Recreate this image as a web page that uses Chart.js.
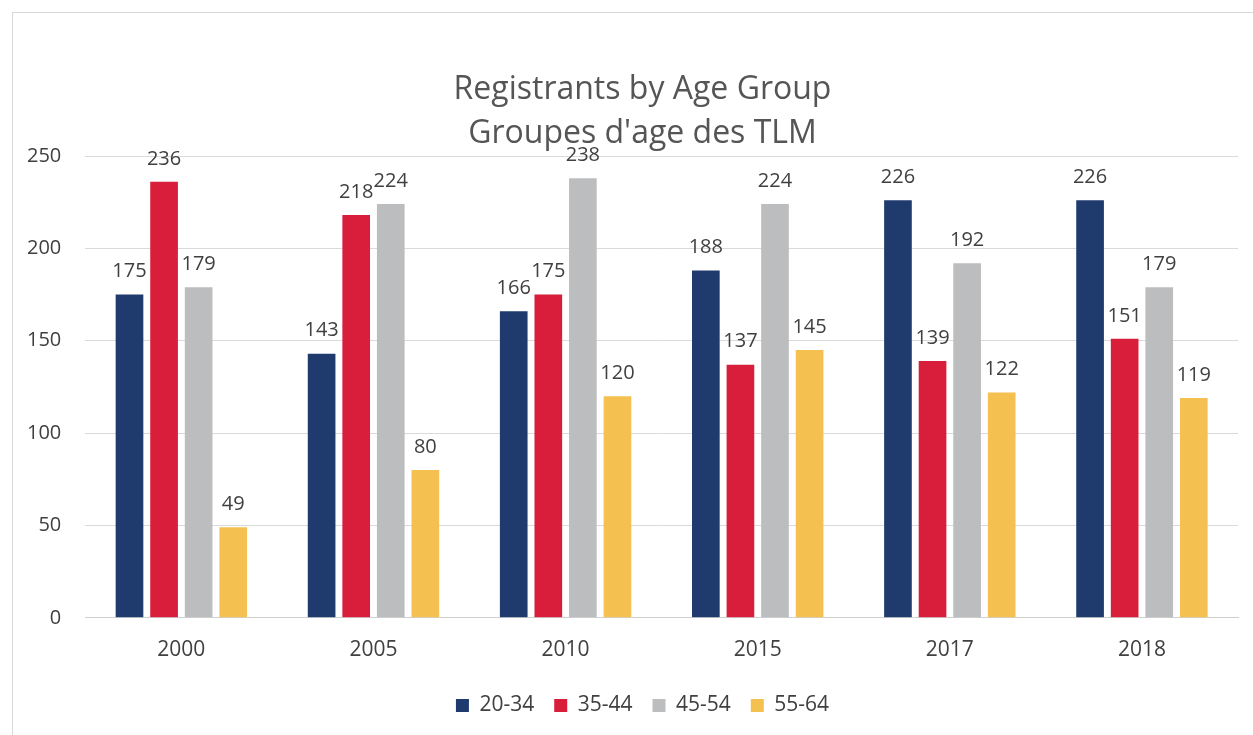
<!DOCTYPE html>
<html>
<head>
<meta charset="utf-8">
<script src="https://cdn.jsdelivr.net/npm/chart.js@4.4.1/dist/chart.umd.min.js"></script>
<style>
  html, body { margin: 0; padding: 0; background: #fff; }
  #frame { position: absolute; left: 12px; top: 12px; width: 1250px; height: 730px; border-left: 1px solid #d8d8d8; border-top: 1px solid #d8d8d8; }
  canvas { position: absolute; left: 0; top: 0; display: block; }
</style>
</head>
<body>
<div id="frame"></div>
<canvas id="chart" width="1253" height="735"></canvas>
<script>
const years = ['2000', '2005', '2010', '2015', '2017', '2018'];
const age20to34 = [175, 143, 166, 188, 226, 226];
const age35to44 = [236, 218, 175, 137, 139, 151];
const age45to54 = [179, 224, 238, 224, 192, 179];
const age55to64 = [49, 80, 120, 145, 122, 119];
const yTicks = [0, 50, 100, 150, 200, 250];

const textColor = '#404040';
const fontFamily = '"Open Sans", Calibri, sans-serif';

// draws the value above each bar
const valueLabels = {
    id: 'valueLabels',
    afterDatasetsDraw(chart) {
        const ctx = chart.ctx;
        ctx.save();
        ctx.font = '20px ' + fontFamily;
        ctx.fillStyle = textColor;
        ctx.textAlign = 'center';
        ctx.textBaseline = 'bottom';
        chart.data.datasets.forEach((ds, i) => {
            chart.getDatasetMeta(i).data.forEach((bar, j) => {
                ctx.fillText(ds.data[j], bar.x, bar.y - 13);
            });
        });
        ctx.restore();
    }
};

// the original centres title and legend on the frame, a bit right of the canvas middle
const shiftBoxes = {
    id: 'shiftBoxes',
    afterLayout(chart) {
        [chart.titleBlock, chart.legend].forEach(b => {
            b.left += 22;
            b.right += 22;
        });
    }
};

const ctx = document.getElementById('chart').getContext('2d');
new Chart(ctx, {
    type: 'bar',
    data: {
        labels: years,
        datasets: [
            { label: '20-34', data: age20to34, backgroundColor: '#1f3b6e' },
            { label: '35-44', data: age35to44, backgroundColor: '#d81e3a' },
            { label: '45-54', data: age45to54, backgroundColor: '#bcbdbf' },
            { label: '55-64', data: age55to64, backgroundColor: '#f4c04f' }
        ]
    },
    options: {
        responsive: false,
        animation: false,
        categoryPercentage: 0.72,
        barPercentage: 0.8,
        layout: { padding: { left: 3, right: 15, top: 0, bottom: 9 } },
        plugins: {
            title: {
                display: true,
                text: ['Registrants by Age Group', "Groupes d'age des TLM"],
                color: '#555555',
                font: { size: 32, family: fontFamily, weight: 'normal', lineHeight: 1.375 },
                padding: { top: 68, bottom: 0 }
            },
            legend: {
                position: 'bottom',
                labels: {
                    color: textColor,
                    boxWidth: 13,
                    boxHeight: 13,
                    padding: 20,
                    font: { size: 21, family: fontFamily }
                }
            },
            tooltip: { enabled: false }
        },
        scales: {
            x: {
                grid: { display: false },
                border: { color: '#d0d0d0' },
                ticks: { color: textColor, padding: 12, font: { size: 21, family: fontFamily } }
            },
            y: {
                min: 0,
                max: 250,
                afterBuildTicks: axis => { axis.ticks = yTicks.map(v => ({ value: v })); },
                grid: { color: '#dadada', drawTicks: false },
                border: { display: false },
                ticks: { color: textColor, padding: 24, font: { size: 20, family: fontFamily } }
            }
        }
    },
    plugins: [valueLabels, shiftBoxes]
});
</script>
</body>
</html>
